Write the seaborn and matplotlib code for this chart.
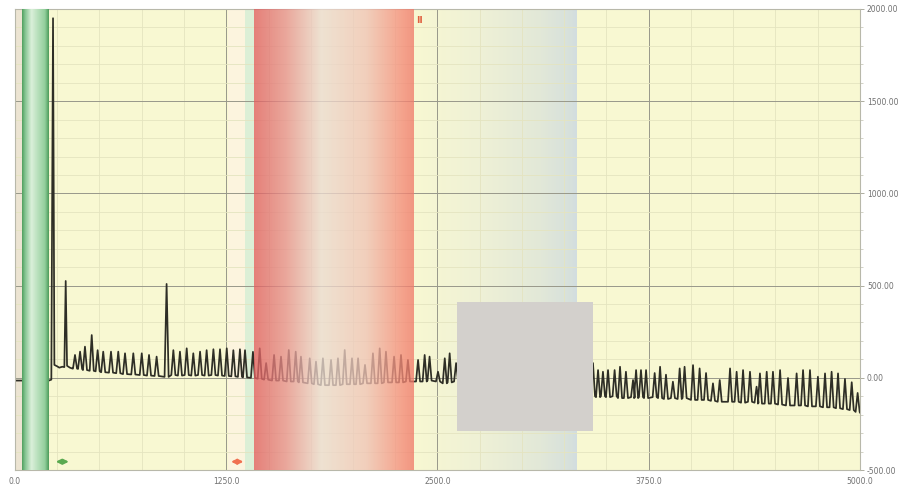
import numpy as np
import pandas as pd
import matplotlib
matplotlib.use("Agg")
import matplotlib.pyplot as plt
from matplotlib.colors import LinearSegmentedColormap
from matplotlib.patches import Rectangle
from matplotlib.ticker import MultipleLocator
import seaborn as sns

# start of the trace (flat part + two big spikes)
lead_x = [0, 200, 215, 225, 233, 250, 262, 280, 292, 300, 308, 325, 340]
lead_y = [-15, -15, -10, 1950, 70, 62, 55, 60, 58, 525, 65, 55, 50]

# each later beat: peak position, peak value, baseline value around it
peak_x = [355, 385, 414, 454, 489, 522, 568, 611, 651, 700, 750, 793, 838, 897,
          937, 976, 1016, 1055, 1095, 1134, 1174, 1213, 1253, 1292, 1331, 1361,
          1408, 1448, 1486, 1533, 1574, 1620, 1661, 1692, 1744, 1781, 1822, 1870,
          1911, 1951, 1994, 2030, 2071, 2118, 2158, 2195, 2243, 2284, 2325, 2385,
          2424, 2453, 2503, 2543, 2572, 2610,
          3420, 3450, 3479, 3509, 3548, 3580, 3615, 3657, 3675, 3704, 3734, 3785,
          3817, 3852, 3893, 3933, 3962, 4012, 4051, 4089, 4130, 4170, 4231, 4270,
          4308, 4349, 4388, 4408, 4448, 4485, 4527, 4574, 4625, 4663, 4704, 4751,
          4793, 4832, 4870, 4911, 4951, 4986]
peak_y = [124, 142, 169, 232, 150, 142, 142, 142, 133, 133, 133, 124, 115, 509,
          150, 142, 160, 133, 142, 150, 155, 155, 160, 150, 155, 150,
          141, 160, 80, 124, 115, 151, 142, 115, 106, 88, 106, 97,
          106, 151, 106, 106, 70, 133, 160, 142, 115, 124, 97, 97,
          124, 115, 33, 106, 133, 80,
          80, 42, 33, 42, 42, 60, 33, -12, 42, 42, 42, 26,
          60, 17, -21, 51, 60, 69, 51, 26, -30, -12, 51, 33,
          42, 33, -48, 24, 33, 33, 42, -1, 24, 42, 42, 6,
          24, 33, 24, -6, -24, -82]
base_y = [50, 48, 42, 38, 35, 30, 28, 25, 20, 18, 15, 12, 10, 5,
          15, 12, 15, 12, 15, 12, 15, 12, 10, 8, 5, 2,
          0, -5, -10, -15, -15, -20, -20, -25, -30, -35, -40, -40,
          -40, -35, -35, -35, -30, -30, -30, -25, -25, -25, -20, -20,
          -20, -15, -20, -30, -25, -20,
          -100, -105, -100, -105, -100, -110, -110, -105, -110, -105, -110, -105,
          -110, -115, -110, -115, -110, -120, -120, -120, -125, -130, -130, -130,
          -135, -130, -135, -140, -140, -140, -145, -150, -150, -150, -155, -155,
          -160, -160, -165, -170, -175, -185]
end_x, end_y = 5000, -190
spike_half_width = 12

x_ticks = [0, 1250, 2500, 3750, 5000]
x_labels = ["0.0", "1250.0", "2500.0", "3750.0", "5000.0"]
y_ticks = [-500, 0, 500, 1000, 1500, 2000]
y_labels = ["-500.00", "0.00", "500.00", "1000.00", "1500.00", "2000.00"]

# shaded regions (x ranges)
green_band = (40, 195)
red_band = (1414, 2355)
grey_band = (2355, 3320)
cream_band = (1260, 1360)
mint_band = (1360, 1414)
edge_band = (0, 40)
mask_box = (2615, 3420, -290, 410)
green_marker = (225, 335)
red_marker = (1262, 1368)

# build the trace: every beat is a narrow spike sitting on its baseline
xs, ys = list(lead_x), list(lead_y)
for px, pv, b in zip(peak_x, peak_y, base_y):
    xs += [px - spike_half_width, px, px + spike_half_width]
    ys += [b, pv, b]
xs.append(end_x)
ys.append(end_y)
df = pd.DataFrame({"x": xs, "y": ys})

sns.set_style("white")
fig = plt.figure(figsize=(9.01, 4.90), dpi=100)
ax = fig.add_axes([15 / 901, 20 / 490, 845 / 901, 461 / 490])
ax.set_facecolor("#f8f8d2")
ax.set_xlim(0, 5000)
ax.set_ylim(-500, 2000)

# grid
ax.xaxis.set_minor_locator(MultipleLocator(250))
ax.yaxis.set_minor_locator(MultipleLocator(100))
ax.set_axisbelow(True)
ax.grid(which="minor", color="#e4e4c0", lw=0.6)
ax.grid(which="major", color="#98988a", lw=0.7)

sns.lineplot(data=df, x="x", y="y", ax=ax, color="#2e2e26", lw=1.25,
             estimator=None, sort=False, zorder=2)


def band(rng, colors, alpha, z):
    cmap = LinearSegmentedColormap.from_list("b", colors)
    grad = np.linspace(0, 1, 256).reshape(1, -1)
    ax.imshow(grad, cmap=cmap, extent=[rng[0], rng[1], -500, 2000],
              aspect="auto", alpha=alpha, zorder=z, interpolation="bilinear")


ax.axvspan(*edge_band, color="#ece4d2", zorder=0.3, lw=0)
ax.axvspan(*cream_band, color="#fcf4de", zorder=0.3, lw=0)
ax.axvspan(*mint_band, color="#dcefd6", zorder=0.3, lw=0)
band(grey_band, [(0, "#f8f8d2"), (0.4, "#eff1d6"), (0.78, "#e2e8d8"),
                 (0.97, "#d6e0dc"), (1, "#d2dde0")], 1.0, 0.3)
band(green_band, [(0, "#4f9f5e"), (0.12, "#86c592"), (0.35, "#dbf0da"),
                  (0.6, "#b6dfba"), (0.85, "#93cf9c"), (1, "#4b9b5a")], 1.0, 3)
band(red_band, [(0, "#e05e60"), (0.2, "#e6908c"), (0.42, "#ecdcd2"),
                (0.7, "#f0c4b6"), (0.93, "#f48a78"), (1, "#f07a6a")], 0.78, 3)

x0, x1, y0, y1 = mask_box
ax.add_patch(Rectangle((x0, y0), x1 - x0, y1 - y0, facecolor="#d3d0cc",
                       edgecolor="none", zorder=4))

ax.annotate("", xy=(green_marker[0], -455), xytext=(green_marker[1], -455),
            arrowprops=dict(arrowstyle="<|-|>", color="#5aaa50", lw=1.5,
                            mutation_scale=7), zorder=5)
ax.annotate("", xy=(red_marker[0], -455), xytext=(red_marker[1], -455),
            arrowprops=dict(arrowstyle="<|-|>", color="#f07050", lw=1.5,
                            mutation_scale=7), zorder=5)
ax.text(2375, 1925, "II", color="#e06040", fontsize=6.5, fontweight="bold",
        zorder=5)

# axes / labels
ax.set_xlabel("")
ax.set_ylabel("")
ax.set_xticks(x_ticks)
ax.set_xticklabels(x_labels)
ax.set_yticks(y_ticks)
ax.set_yticklabels(y_labels)
ax.yaxis.tick_right()
ax.tick_params(axis="both", which="major", labelsize=5.5, labelcolor="#707070",
               color="#a0a090", length=3, width=0.6, pad=2)
ax.tick_params(axis="y", which="minor", color="#c0c0b0", length=2, width=0.5)
ax.tick_params(axis="x", which="minor", length=0)
for s in ax.spines.values():
    s.set_color("#b8b8aa")
    s.set_linewidth(0.8)

fig.savefig("out.png", dpi=100)
